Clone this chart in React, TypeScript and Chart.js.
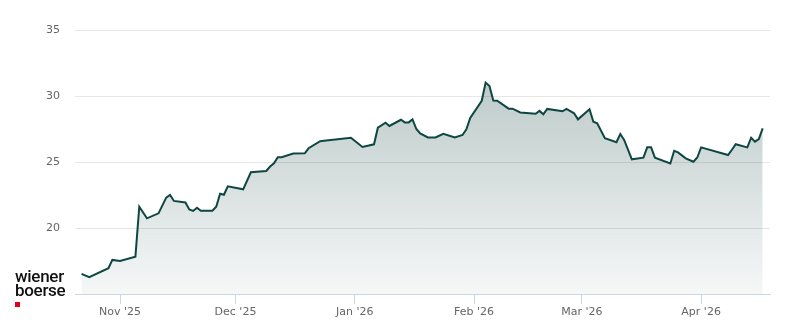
import React, { useEffect, useRef } from "react";
import { Chart, registerables } from "chart.js";

Chart.register(...registerables);

const dates: string[] = [
  "2025-10-22", "2025-10-24", "2025-10-29", "2025-10-30", "2025-11-01", "2025-11-05",
  "2025-11-06", "2025-11-08", "2025-11-11", "2025-11-13", "2025-11-14", "2025-11-15",
  "2025-11-18", "2025-11-19", "2025-11-20", "2025-11-21", "2025-11-22", "2025-11-25",
  "2025-11-26", "2025-11-27", "2025-11-28", "2025-11-29", "2025-12-03", "2025-12-05",
  "2025-12-09", "2025-12-10", "2025-12-11", "2025-12-12", "2025-12-13", "2025-12-16",
  "2025-12-19", "2025-12-20", "2025-12-23", "2025-12-24", "2025-12-31", "2026-01-03",
  "2026-01-06", "2026-01-07", "2026-01-09", "2026-01-10", "2026-01-13", "2026-01-14",
  "2026-01-15", "2026-01-16", "2026-01-17", "2026-01-18", "2026-01-20", "2026-01-22",
  "2026-01-24", "2026-01-27", "2026-01-29", "2026-01-30", "2026-01-31", "2026-02-03",
  "2026-02-04", "2026-02-05", "2026-02-06", "2026-02-07", "2026-02-10", "2026-02-11",
  "2026-02-13", "2026-02-17", "2026-02-18", "2026-02-19", "2026-02-20", "2026-02-24",
  "2026-02-25", "2026-02-27", "2026-02-28", "2026-03-03", "2026-03-04", "2026-03-05",
  "2026-03-07", "2026-03-10", "2026-03-11", "2026-03-12", "2026-03-14", "2026-03-17",
  "2026-03-18", "2026-03-19", "2026-03-20", "2026-03-24", "2026-03-25", "2026-03-26",
  "2026-03-28", "2026-03-30", "2026-03-31", "2026-04-01", "2026-04-08", "2026-04-09",
  "2026-04-10", "2026-04-13", "2026-04-14", "2026-04-15", "2026-04-16", "2026-04-17",
];

const prices: number[] = [
  16.52, 16.27, 16.95, 17.58, 17.5, 17.83,
  21.61, 20.73, 21.11, 22.3, 22.5, 22.05,
  21.93, 21.4, 21.29, 21.54, 21.31, 21.31,
  21.61, 22.6, 22.52, 23.16, 22.93, 24.22,
  24.32, 24.66, 24.9, 25.36, 25.36, 25.64,
  25.66, 26.04, 26.58, 26.61, 26.84, 26.14,
  26.34, 27.6, 27.98, 27.73, 28.2, 28.0,
  28.0, 28.23, 27.5, 27.17, 26.86, 26.86,
  27.14, 26.86, 27.05, 27.48, 28.33, 29.64,
  31.02, 30.76, 29.66, 29.64, 29.04, 29.04,
  28.75, 28.65, 28.87, 28.61, 29.02, 28.84,
  29.02, 28.69, 28.23, 29.0, 28.05, 27.93,
  26.8, 26.5, 27.12, 26.67, 25.2, 25.33,
  26.11, 26.11, 25.33, 24.89, 25.85, 25.73,
  25.28, 25.02, 25.34, 26.11, 25.53, 25.93,
  26.35, 26.11, 26.84, 26.54, 26.74, 27.55,
];

const tickDates: string[] = ["2025-11-01", "2025-12-01", "2026-01-01", "2026-02-01", "2026-03-01", "2026-04-01"];
const tickLabels: string[] = ["Nov '25", "Dec '25", "Jan '26", "Feb '26", "Mar '26", "Apr '26"];
const yTicks: number[] = [15, 20, 25, 30, 35];

const toDay = (s: string) =>
  Date.UTC(+s.slice(0, 4), +s.slice(5, 7) - 1, +s.slice(8, 10)) / 86400000;

export default function App() {
  const ref = useRef<HTMLCanvasElement | null>(null);

  useEffect(() => {
    if (!ref.current) return;
    const points = dates.map((d, i) => ({ x: toDay(d), y: prices[i] }));
    const xMin = toDay(dates[0]) - 1.7;
    const xMax = toDay(dates[dates.length - 1]) + 1.9;
    const maxVal = Math.max(...prices);
    const labelFont = { family: "'DejaVu Sans', sans-serif", size: 11 };

    const chart = new Chart(ref.current, {
      type: "line",
      data: {
        datasets: [
          {
            data: points,
            borderColor: "#0e4741",
            borderWidth: 2,
            pointRadius: 0,
            tension: 0,
            fill: "start",
            backgroundColor: (ctx: any) => {
              const c = ctx.chart;
              const area = c.chartArea;
              if (!area) return "rgba(30,75,72,0.15)";
              const yScale = c.scales.y;
              const top = yScale.getPixelForValue(maxVal);
              const g = c.ctx.createLinearGradient(0, top, 0, area.bottom);
              g.addColorStop(0, "rgba(30,75,72,0.29)");
              g.addColorStop(1, "rgba(30,75,72,0.045)");
              return g;
            },
          },
        ],
      },
      options: {
        animation: false,
        responsive: false,
        layout: { padding: { left: 0, right: 30, top: 30, bottom: 0 } },
        plugins: { legend: { display: false }, tooltip: { enabled: false } },
        scales: {
          x: {
            type: "linear",
            min: xMin,
            max: xMax,
            afterBuildTicks: (scale: any) => {
              scale.ticks = tickDates.map((d) => ({ value: toDay(d) }));
            },
            afterFit: (scale: any) => {
              scale.height = 30;
            },
            ticks: {
              autoSkip: false,
              maxRotation: 0,
              padding: 2,
              color: "#666666",
              font: labelFont,
              callback: (_v: any, i: number) => tickLabels[i],
            },
            grid: {
              drawOnChartArea: false,
              drawTicks: true,
              tickLength: 10,
              color: "#ccd6eb",
              lineWidth: 1,
            },
            border: { color: "#ccd6eb", width: 1 },
          },
          y: {
            min: yTicks[0],
            max: yTicks[yTicks.length - 1],
            afterBuildTicks: (scale: any) => {
              scale.ticks = yTicks.map((v) => ({ value: v }));
            },
            afterFit: (scale: any) => {
              scale.width = 75;
            },
            ticks: {
              padding: 15,
              color: "#666666",
              font: labelFont,
              callback: (v: any) => (v === yTicks[0] ? "" : String(v)),
            },
            grid: { color: "#e6e6e6", drawTicks: false, lineWidth: 1 },
            border: { display: false },
          },
        },
      },
    } as any);
    return () => chart.destroy();
  }, []);

  const logoLine: React.CSSProperties = {
    position: "absolute",
    left: 15,
    fontFamily: "Roboto, 'Liberation Sans', Arial, sans-serif",
    fontSize: 17,
    lineHeight: "17px",
    letterSpacing: "-0.3px",
    color: "#111",
    fontWeight: 500,
  };

  return (
    <div style={{ position: "fixed", left: 0, top: 0, width: 800, height: 324, background: "#fff" }}>
      <canvas ref={ref} width={800} height={324} style={{ position: "absolute", left: 0, top: 0 }} />
      <div style={{ ...logoLine, top: 268 }}>wiener</div>
      <div style={{ ...logoLine, top: 282 }}>boerse</div>
      <div style={{ position: "absolute", left: 15, top: 302, width: 5, height: 5, background: "#e2001a" }} />
    </div>
  );
}
